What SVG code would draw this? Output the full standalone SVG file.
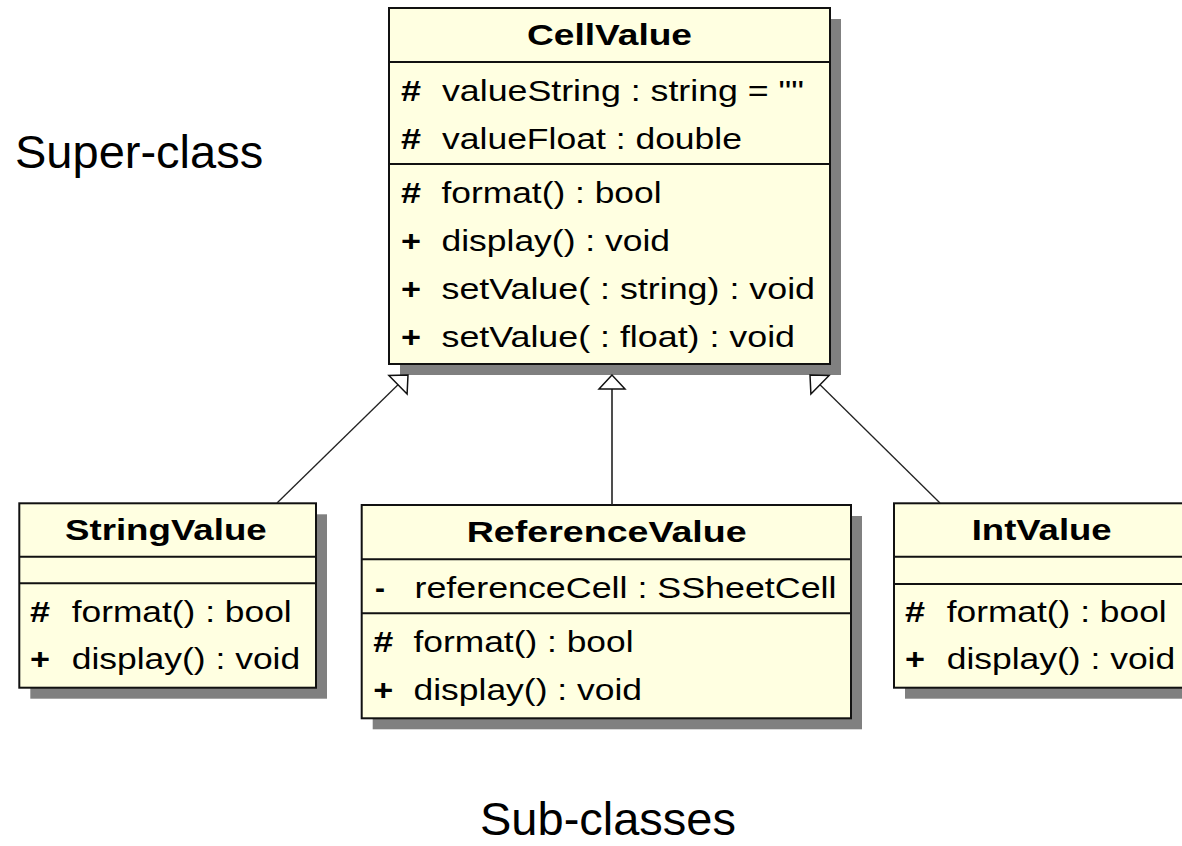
<svg xmlns="http://www.w3.org/2000/svg" width="1182" height="846" viewBox="0 0 1182 846">
<style>
.shadow{fill:#808080;}
.box{fill:#ffffe1;stroke:#111;stroke-width:2;}
.div{stroke:#111;stroke-width:2;}
.t{font-family:"Liberation Sans",Arial,sans-serif;font-size:30px;fill:#000;}
.b{font-family:"Liberation Sans",Arial,sans-serif;font-size:30px;font-weight:bold;fill:#000;}
.lbl{font-family:"Liberation Sans",Arial,sans-serif;font-size:47px;fill:#000;}
.edge{stroke:#222;stroke-width:1.3;fill:none;}
.head{fill:#fff;stroke:#111;stroke-width:1.5;stroke-linejoin:miter;}
</style>
<rect width="1182" height="846" fill="#fff"/>

<g id="CellValue">
<rect class="shadow" x="400" y="19" width="441" height="356"/>
<rect class="box" x="389" y="8" width="441" height="356"/>
<line class="div" x1="389" y1="62" x2="830" y2="62"/>
<line class="div" x1="389" y1="164" x2="830" y2="164"/>
<text class="b" x="527" y="45" textLength="165" lengthAdjust="spacingAndGlyphs">CellValue</text>
<text class="b" x="401" y="100.5" textLength="20" lengthAdjust="spacingAndGlyphs">#</text>
<text class="t" x="442" y="100.5" textLength="362" lengthAdjust="spacingAndGlyphs">valueString : string = ""</text>
<text class="b" x="401" y="148.5" textLength="20" lengthAdjust="spacingAndGlyphs">#</text>
<text class="t" x="442" y="148.5" textLength="300" lengthAdjust="spacingAndGlyphs">valueFloat : double</text>
<text class="b" x="401" y="202.5" textLength="20" lengthAdjust="spacingAndGlyphs">#</text>
<text class="t" x="441.5" y="202.5" textLength="220" lengthAdjust="spacingAndGlyphs">format() : bool</text>
<text class="b" x="401" y="250.5" textLength="20" lengthAdjust="spacingAndGlyphs">+</text>
<text class="t" x="441.5" y="250.5" textLength="228.5" lengthAdjust="spacingAndGlyphs">display() : void</text>
<text class="b" x="401" y="298.5" textLength="20" lengthAdjust="spacingAndGlyphs">+</text>
<text class="t" x="441.5" y="298.5" textLength="373.5" lengthAdjust="spacingAndGlyphs">setValue( : string) : void</text>
<text class="b" x="401" y="346.5" textLength="20" lengthAdjust="spacingAndGlyphs">+</text>
<text class="t" x="441.5" y="346.5" textLength="353.5" lengthAdjust="spacingAndGlyphs">setValue( : float) : void</text>
</g>

<g id="StringValue">
<rect class="shadow" x="30.3" y="514.3" width="296.7" height="184.4"/>
<rect class="box" x="19.3" y="503.3" width="296.7" height="184.4"/>
<line class="div" x1="19.3" y1="556.7" x2="316" y2="556.7"/>
<line class="div" x1="19.3" y1="583.3" x2="316" y2="583.3"/>
<text class="b" x="65" y="540.3" textLength="201.7" lengthAdjust="spacingAndGlyphs">StringValue</text>
<text class="b" x="30" y="621.5" textLength="20" lengthAdjust="spacingAndGlyphs">#</text>
<text class="t" x="71.7" y="621.5" textLength="220" lengthAdjust="spacingAndGlyphs">format() : bool</text>
<text class="b" x="30" y="669" textLength="20" lengthAdjust="spacingAndGlyphs">+</text>
<text class="t" x="71.7" y="669" textLength="228.5" lengthAdjust="spacingAndGlyphs">display() : void</text>
</g>

<g id="ReferenceValue">
<rect class="shadow" x="372.7" y="516" width="489.3" height="213.3"/>
<rect class="box" x="361.7" y="505" width="489.3" height="213.3"/>
<line class="div" x1="361.7" y1="559.3" x2="851" y2="559.3"/>
<line class="div" x1="361.7" y1="613.3" x2="851" y2="613.3"/>
<text class="b" x="466.7" y="542" textLength="280" lengthAdjust="spacingAndGlyphs">ReferenceValue</text>
<text class="b" x="375" y="597.5">-</text>
<text class="t" x="414.5" y="597.5" textLength="422" lengthAdjust="spacingAndGlyphs">referenceCell : SSheetCell</text>
<text class="b" x="373.3" y="651.8" textLength="20" lengthAdjust="spacingAndGlyphs">#</text>
<text class="t" x="413.5" y="651.8" textLength="220" lengthAdjust="spacingAndGlyphs">format() : bool</text>
<text class="b" x="373.3" y="699.8" textLength="20" lengthAdjust="spacingAndGlyphs">+</text>
<text class="t" x="413.5" y="699.8" textLength="228.5" lengthAdjust="spacingAndGlyphs">display() : void</text>
</g>

<g id="IntValue">
<rect class="shadow" x="905" y="514.3" width="296" height="184.4"/>
<rect class="box" x="894" y="503.3" width="296" height="184.4"/>
<line class="div" x1="894" y1="556.7" x2="1190" y2="556.7"/>
<line class="div" x1="894" y1="584" x2="1190" y2="584"/>
<text class="b" x="971.7" y="540.3" textLength="140" lengthAdjust="spacingAndGlyphs">IntValue</text>
<text class="b" x="905" y="621.5" textLength="20" lengthAdjust="spacingAndGlyphs">#</text>
<text class="t" x="946.7" y="621.5" textLength="220" lengthAdjust="spacingAndGlyphs">format() : bool</text>
<text class="b" x="905" y="669" textLength="20" lengthAdjust="spacingAndGlyphs">+</text>
<text class="t" x="946.7" y="669" textLength="228.5" lengthAdjust="spacingAndGlyphs">display() : void</text>
</g>

<g id="connectors">
<line class="edge" x1="277" y1="503" x2="398" y2="384.8"/>
<polygon class="head" points="408,375 388.9,375.5 407.1,394.1"/>
<line class="edge" x1="612" y1="505" x2="612" y2="389" style="stroke-width:1.6"/>
<polygon class="head" points="612,375 599,389 625,389"/>
<line class="edge" x1="940" y1="503" x2="820" y2="384.8"/>
<polygon class="head" points="810,375 829.1,375.5 810.9,394.1"/>
</g>

<g id="labels">
<text class="lbl" x="15" y="168">Super-class</text>
<text class="lbl" x="480" y="835">Sub-classes</text>
</g>
</svg>
